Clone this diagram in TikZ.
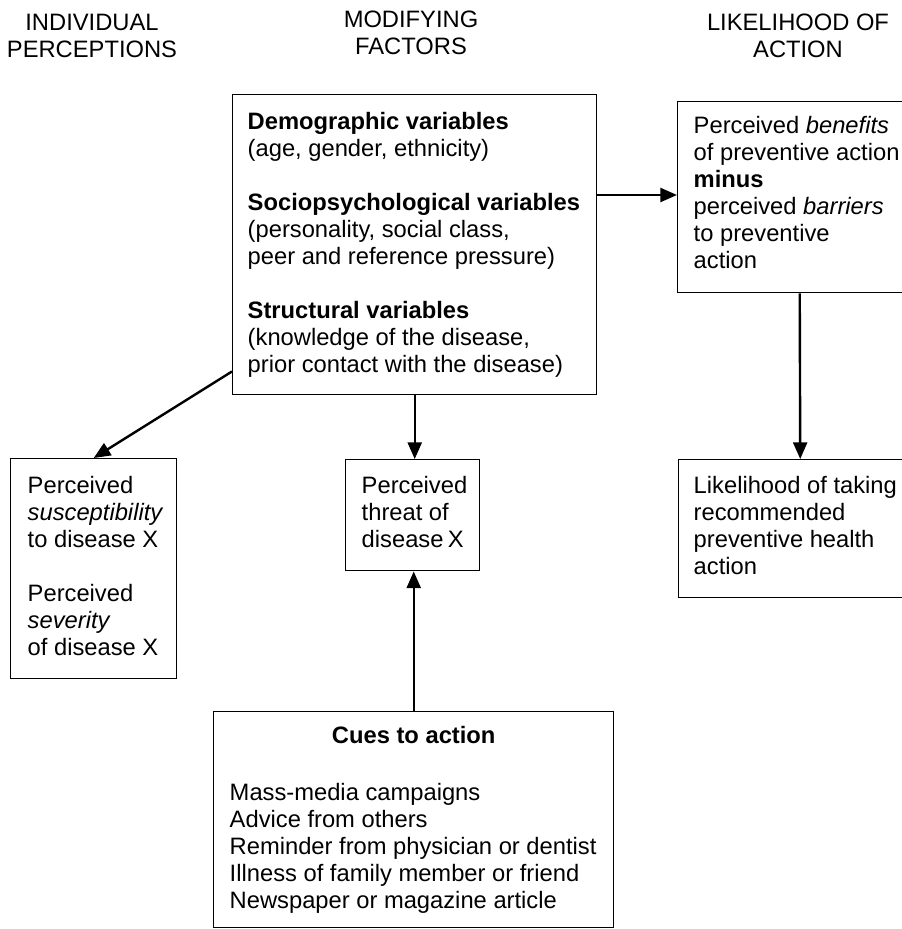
\documentclass[tikz,border=0pt]{standalone}
\usepackage{fontspec}
\setmainfont{Liberation Sans}
\usetikzlibrary{arrows.meta,calc}
% one drawing unit = one pixel of the 902 x 929 page
\newdimen\pxu \pxu=0.75pt
\newcommand\topstrut{\rule{0pt}{14pt}}
\begin{document}
\begin{tikzpicture}[x=0.75pt,y=-0.75pt,
  font=\fontsize{17.8pt}{20.25pt}\selectfont,
  panel/.style={draw, line width=1.1pt, anchor=north west, inner sep=0pt},
  head/.style={align=center, anchor=north, inner sep=0pt},
  arr/.style={line width=1.8pt, -{Triangle[length=12.5pt,width=10.5pt]}}]
\useasboundingbox (0,0) rectangle (902,929);
\clip (0,0) rectangle (902,929);

% column headings
\node[head] (h1) at (92,12)   {\topstrut INDIVIDUAL\\PERCEPTIONS};
\node[head] (h2) at (411,9)   {\topstrut MODIFYING\\FACTORS};
\node[head] (h3) at (798,12)  {\topstrut LIKELIHOOD OF\\ACTION};

% modifying factors
\node[panel, inner xsep=15\pxu, inner ysep=16.3\pxu] (M) at (232,94)
  {\parbox[t][267.4\pxu][t]{334\pxu}{\topstrut\textbf{Demographic variables}\\
   (age, gender, ethnicity)\\[27\pxu]
   \textbf{Sociopsychological variables}\\
   (personality, social class,\\
   peer and reference pressure)\\[27\pxu]
   \textbf{Structural variables}\\
   (knowledge of the disease,\\
   prior contact with the disease)}};

% benefits minus barriers
\node[panel, inner xsep=16\pxu, inner ysep=13.3\pxu] (R1) at (677,101)
  {\parbox[t][164.4\pxu][t]{212\pxu}{\topstrut Perceived~\textit{benefits}\\
   of~preventive~action\\
   \textbf{minus}\\
   perceived~\textit{barriers}\\
   to preventive\\
   action}};

% likelihood of action
\node[panel, inner xsep=15\pxu, inner ysep=15.3\pxu] (R2) at (678,459)
  {\parbox[t][107.4\pxu][t]{213\pxu}{\topstrut Likelihood~of~taking\\
   recommended\\
   preventive~health\\
   action}};

% individual perceptions
\node[panel, inner xsep=17\pxu, inner ysep=16.3\pxu] (L) at (10,458)
  {\parbox[t][187.4\pxu][t]{132\pxu}{\topstrut Perceived\\
   \textit{susceptibility}\\
   to~disease~X\\[27\pxu]
   Perceived\\
   \textit{severity}\\
   of~disease~X}};

% perceived threat
\node[panel, inner xsep=16\pxu, inner ysep=15.3\pxu] (T) at (345,459)
  {\parbox[t][80.4\pxu][t]{102\pxu}{\topstrut Perceived\\
   threat~of\\
   disease~X}};

% cues to action
\node[panel, inner xsep=16\pxu, inner ysep=13.3\pxu] (C) at (213,711)
  {\parbox[t][189.4\pxu][t]{368\pxu}{{\centering\bfseries\topstrut Cues to action\par}
   \vspace{30\pxu}
   \raggedright Mass-media campaigns\\
   Advice from others\\
   Reminder~from~physician~or~dentist\\
   Illness of family member or friend\\
   Newspaper or magazine article}};

% connectors
\coordinate (mr) at ($(R1.north west)+(0,94)$);
\draw[arr] (M.east |- mr) -- (mr);
\draw[arr] (R1.south) -- (R2.north);
\coordinate (ml) at ($(M.south west)+(0,-24)$);
\draw[arr] (ml) -- (L.north);
\draw[arr] (M.south) -- (M.south |- T.north);
\draw[arr] (C.north) -- (C.north |- T.south);
\end{tikzpicture}
\end{document}
